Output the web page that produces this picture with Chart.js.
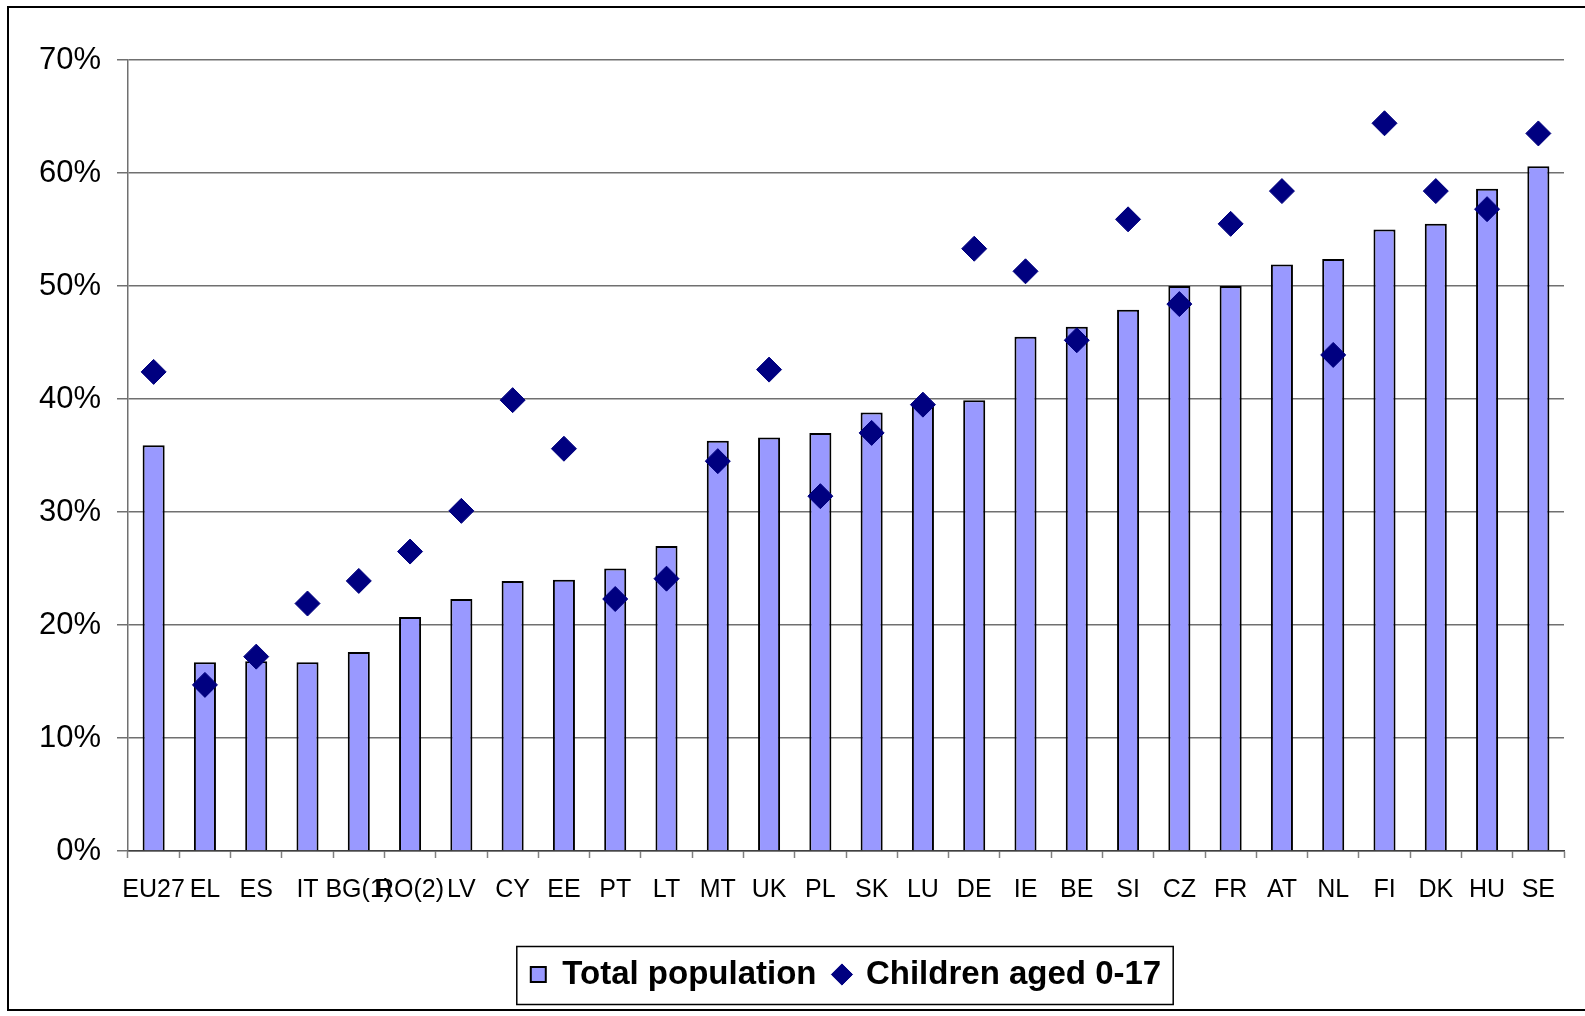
<!DOCTYPE html>
<html>
<head>
<meta charset="utf-8">
<title>At-risk-of-poverty rate before social transfers</title>
<script src="https://cdn.jsdelivr.net/npm/chart.js@4.4.1/dist/chart.umd.min.js"></script>
<style>
  html, body { margin: 0; padding: 0; background: #ffffff; }
  #wrap { width: 1585px; height: 1016px; }
  canvas { display: block; }
</style>
</head>
<body>
<div id="wrap"><canvas id="chart" width="1585" height="1016"></canvas></div>
<script>
// Countries, ordered by the rate for the total population
const categories = ['EU27', 'EL', 'ES', 'IT', 'BG(1)', 'RO(2)', 'LV', 'CY', 'EE', 'PT', 'LT', 'MT', 'UK', 'PL',
  'SK', 'LU', 'DE', 'IE', 'BE', 'SI', 'CZ', 'FR', 'AT', 'NL', 'FI', 'DK', 'HU', 'SE'];

// Rates in percent
const totalPopulation = [35.9, 16.7, 16.8, 16.7, 17.6, 20.7, 22.3, 23.9, 24.0, 25.0, 27.0, 36.3, 36.6, 37.0,
  38.8, 39.4, 39.9, 45.5, 46.4, 47.9, 50.0, 50.0, 51.9, 52.4, 55.0, 55.5, 58.6, 60.6];
const children0to17 = [42.4, 14.7, 17.2, 21.9, 23.9, 26.5, 30.1, 39.9, 35.6, 22.3, 24.1, 34.5, 42.6, 31.4,
  37.0, 39.5, 53.3, 51.3, 45.2, 55.9, 48.4, 55.5, 58.4, 43.9, 64.4, 58.4, 56.8, 63.5];

// Value axis
const yTicks = [0, 10, 20, 30, 40, 50, 60, 70];

const seriesNames = ['Total population', 'Children aged 0-17'];

const FONT = "'Liberation Sans', Arial, Helvetica, sans-serif";

// Outer frame of the chart object
const framePlugin = {
  id: 'frame',
  beforeDraw(chart) {
    const ctx = chart.ctx;
    ctx.save();
    ctx.fillStyle = '#ffffff';
    ctx.fillRect(0, 0, chart.width, chart.height);
    ctx.restore();
  },
  afterDraw(chart) {
    const ctx = chart.ctx;
    ctx.save();
    ctx.strokeStyle = '#000000';
    ctx.lineWidth = 2;
    ctx.strokeRect(8, 7, chart.width + 20, 1003);
    ctx.restore();
  }
};

// Centre the legend under the plot area and give it a box
const legendBoxPlugin = {
  id: 'legendBox',
  afterLayout(chart) {
    const lg = chart.legend;
    if (!lg || !lg.lineWidths) return;
    const pad = lg.options.labels.padding;
    const target = (chart.chartArea.left + chart.chartArea.right) / 2;
    const rowWidth = lg.lineWidths[0] - pad;
    const current = (lg.left + pad + lg.right - lg.lineWidths[0]) / 2 + rowWidth / 2;
    const delta = target - current;
    lg.left += delta;
    lg.right += delta;
    if (typeof lg.adjustHitBoxes === 'function') lg.adjustHitBoxes();
  },
  afterDraw(chart) {
    const lg = chart.legend;
    if (!lg || !lg.lineWidths) return;
    const pad = lg.options.labels.padding;
    const fontSize = lg.options.labels.font.size;
    const startX = (lg.left + pad + lg.right - lg.lineWidths[0]) / 2;
    const endX = startX + lg.lineWidths[0] - pad;
    const midY = lg.top + pad + fontSize / 2;
    const ctx = chart.ctx;
    ctx.save();
    ctx.strokeStyle = '#000000';
    ctx.lineWidth = 1.5;
    ctx.strokeRect(startX - 14, midY - 28, endX - startX + 26, 58);
    ctx.restore();
  }
};

new Chart(document.getElementById('chart'), {
  data: {
    labels: categories,
    datasets: [
      {
        type: 'bar',
        label: seriesNames[0],
        data: totalPopulation,
        backgroundColor: '#9999ff',
        borderColor: '#000000',
        borderWidth: 2,
        barPercentage: 0.43,
        categoryPercentage: 1.0,
        pointStyle: 'rect',
        order: 2
      },
      {
        type: 'line',
        label: seriesNames[1],
        data: children0to17,
        showLine: false,
        pointStyle: 'rectRot',
        pointRadius: 12.5,
        pointHoverRadius: 12.5,
        pointBackgroundColor: '#000080',
        pointBorderColor: '#000080',
        backgroundColor: '#000080',
        borderColor: '#000080',
        borderWidth: 1,
        pointBorderWidth: 1,
        order: 1
      }
    ]
  },
  options: {
    responsive: false,
    devicePixelRatio: 1,
    animation: false,
    events: [],
    layout: { padding: { left: 0, right: 21, top: 60, bottom: 15 } },
    plugins: {
      tooltip: { enabled: false },
      title: { display: false },
      legend: {
        display: true,
        position: 'bottom',
        labels: {
          usePointStyle: true,
          boxWidth: 15,
          boxHeight: 15,
          padding: 18,
          color: '#000000',
          font: { family: FONT, size: 33, weight: 'bold' },
          sort: (a, b) => a.datasetIndex - b.datasetIndex
        }
      }
    },
    scales: {
      x: {
        type: 'category',
        offset: true,
        grid: {
          display: true,
          offset: true,
          drawOnChartArea: false,
          drawTicks: true,
          tickLength: 7,
          tickColor: '#808080',
          tickWidth: 1.5
        },
        border: { display: true, color: '#404040', width: 1.5 },
        ticks: {
          autoSkip: false,
          maxRotation: 0,
          minRotation: 0,
          padding: 17,
          color: '#000000',
          font: { family: FONT, size: 25 }
        },
        afterFit(scale) { scale.height = 89; }
      },
      y: {
        type: 'linear',
        min: yTicks[0],
        max: yTicks[yTicks.length - 1],
        afterBuildTicks(scale) { scale.ticks = yTicks.map(v => ({ value: v })); },
        grid: {
          display: true,
          color: '#707070',
          lineWidth: 1.5,
          drawTicks: true,
          tickLength: 11,
          tickColor: '#707070'
        },
        border: { display: true, color: '#707070', width: 1.5 },
        ticks: {
          padding: 16,
          color: '#000000',
          font: { family: FONT, size: 31 },
          callback: v => v + '%'
        },
        afterFit(scale) { scale.width = 128; }
      }
    }
  },
  plugins: [framePlugin, legendBoxPlugin]
});
</script>
</body>
</html>
